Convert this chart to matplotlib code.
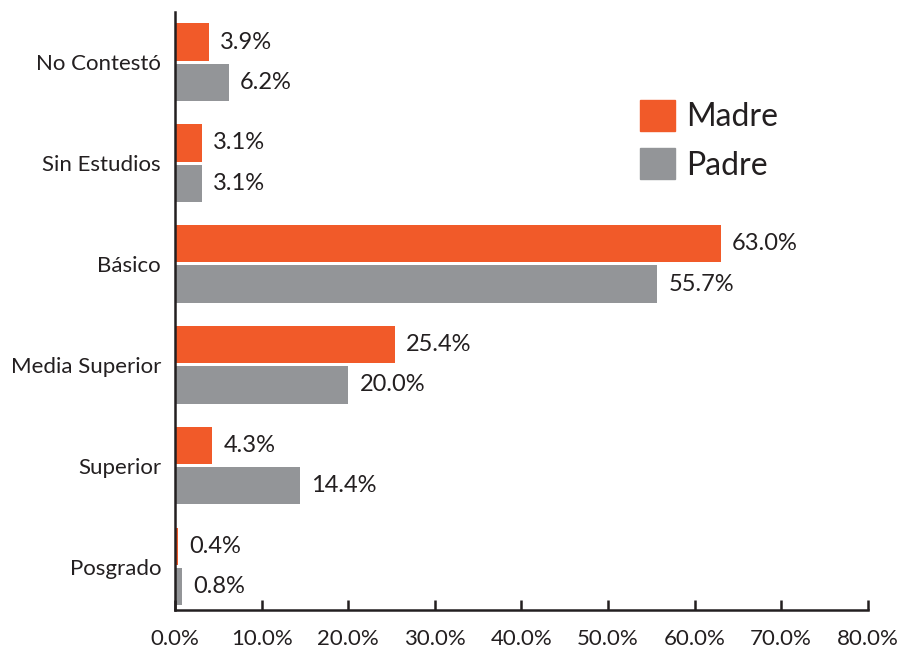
import matplotlib.pyplot as plt
import numpy as np
from matplotlib.patches import Patch

plt.rcParams['font.family'] = ['Lato', 'DejaVu Sans']

categories = ['No Contestó', 'Sin Estudios', 'Básico', 'Media Superior', 'Superior', 'Posgrado']
madre = [3.9, 3.1, 63.0, 25.4, 4.3, 0.4]
padre = [6.2, 3.1, 55.7, 20.0, 14.4, 0.8]
x_ticks = [0, 10, 20, 30, 40, 50, 60, 70, 80]

orange = '#F15A29'
gray = '#939598'
text_color = '#231F20'

fig = plt.figure(figsize=(9.02, 6.53), dpi=100)
ax = fig.add_axes([0.194, 0.066, 0.768, 0.916])

# Posgrado at bottom
y = np.arange(len(categories))[::-1]
h = 0.37
ax.barh(y + 0.2, madre, height=h, color=orange)
ax.barh(y - 0.2, padre, height=h, color=gray)

for yi, m, p in zip(y, madre, padre):
    ax.text(m + 1.3, yi + 0.2, f'{m:.1f}%', va='center', ha='left', fontsize=17, color=text_color)
    ax.text(p + 1.3, yi - 0.2, f'{p:.1f}%', va='center', ha='left', fontsize=17, color=text_color)

ax.set_yticks(y)
ax.set_yticklabels(categories, fontsize=16, color=text_color)
ax.set_xticks(x_ticks)
ax.set_xticklabels([f'{t:.1f}%' for t in x_ticks], fontsize=16, color=text_color)
ax.set_xlim(0, 80)
ax.set_ylim(-0.43, 5.5)

for s in ['top', 'right']:
    ax.spines[s].set_visible(False)
for s in ['left', 'bottom']:
    ax.spines[s].set_linewidth(1.8)
    ax.spines[s].set_color(text_color)
ax.tick_params(axis='y', length=0, pad=10)
ax.tick_params(axis='x', length=7, width=1.8, direction='in', pad=14, color=text_color)

handles = [Patch(color=orange, label='Madre'), Patch(color=gray, label='Padre')]
ax.legend(handles=handles, loc='upper left', bbox_to_anchor=(0.671, 0.852), frameon=False,
          fontsize=23, handlelength=1.1, handleheight=1.1, handletextpad=0.35, labelspacing=0.5,
          borderpad=0, borderaxespad=0, labelcolor=text_color)

fig.savefig('out.png', dpi=100)
